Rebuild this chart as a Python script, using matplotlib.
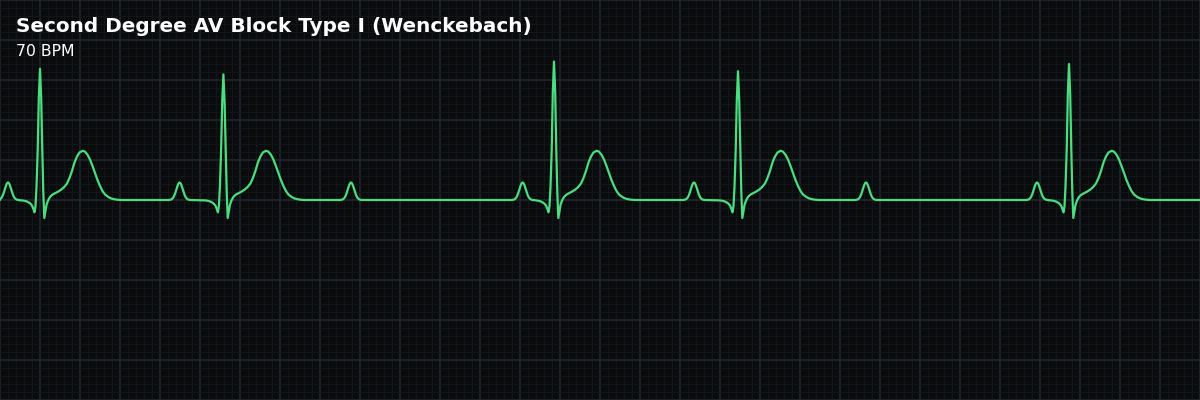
import matplotlib
matplotlib.use("Agg")
import matplotlib.pyplot as plt
import numpy as np

# ---- data ----
title = "Second Degree AV Block Type I (Wenckebach)"
subtitle = "70 BPM"

# P-wave centres (s) - every P wave, conducted or not
p_times = [0.040, 0.898, 1.755, 2.613, 3.470, 4.330, 5.185]
# R-peak times (s) - only conducted beats (PR lengthens, then a beat drops)
r_times = [0.200, 1.117, 2.770, 3.690, 5.345]
# R-peak amplitudes (mV) per conducted beat
r_amps = [1.64, 1.57, 1.73, 1.61, 1.70]

# P-wave template: offset from P centre (s), amplitude (mV)
p_dt = [-0.055, -0.045, -0.040, -0.035, -0.030, -0.025, -0.020, -0.015, -0.010, -0.005,
        0.000, 0.005, 0.010, 0.015, 0.020, 0.025, 0.030, 0.035, 0.040, 0.045, 0.055]
p_mv = [0.000, 0.004, 0.010, 0.020, 0.037, 0.064, 0.100, 0.141, 0.180, 0.209,
        0.219, 0.209, 0.180, 0.141, 0.100, 0.064, 0.037, 0.020, 0.010, 0.004, 0.000]

# QRS-T template: offset from R peak (s), amplitude (mV); R peak value set per beat
qrst_dt = [-0.105, -0.090, -0.075, -0.0625, -0.050, -0.040, -0.034, -0.0275, -0.0225,
           -0.0175, -0.0115, -0.006, 0.000, 0.006, 0.0115, 0.0165, 0.0215, 0.0265,
           0.0325, 0.040, 0.050, 0.060, 0.075, 0.090, 0.105, 0.120, 0.135, 0.1475,
           0.160, 0.1725, 0.185, 0.1975, 0.2135, 0.225, 0.2375, 0.250, 0.2625, 0.275,
           0.2875, 0.300, 0.3125, 0.325, 0.340, 0.355, 0.370, 0.385, 0.405]
qrst_mv = [-0.003, -0.005, -0.011, -0.022, -0.041, -0.069, -0.106, -0.154, -0.075,
           0.163, 0.625, 1.275, None, 1.275, 0.625, 0.100, -0.225, -0.150,
           -0.063, -0.008, 0.038, 0.063, 0.085, 0.104, 0.128, 0.160, 0.206, 0.275,
           0.363, 0.469, 0.544, 0.594, 0.616, 0.604, 0.566, 0.506, 0.425, 0.338,
           0.250, 0.175, 0.113, 0.069, 0.040, 0.020, 0.010, 0.004, 0.000]

x_range = (0.0, 6.0)
y_range = (-2.5, 2.5)

# ---- colours ----
bg = "#0a0b0d"
major_col = "#22272e"
minor_col = "#121519"
trace_col = "#4ade80"

# ---- assemble the trace from the read templates ----
pts = [(x_range[0], 0.0), (x_range[1], 0.0)]
for pt in p_times:
    for dt, v in zip(p_dt, p_mv):
        pts.append((pt + dt, v))
for rt, ra in zip(r_times, r_amps):
    for dt, v in zip(qrst_dt, qrst_mv):
        val = ra if v is None else v
        if v is not None and abs(dt) < 0.008:
            val = v * ra / 1.64
        pts.append((rt + dt, val))
pts.sort(key=lambda p: p[0])
t = [p[0] for p in pts]
y = [p[1] for p in pts]

fig = plt.figure(figsize=(12, 4), dpi=100, facecolor=bg)
ax = fig.add_axes([0, 0, 1, 1])
ax.set_facecolor(bg)
ax.set_xlim(*x_range)
ax.set_ylim(*y_range)

ax.set_xticks(np.arange(0, 6.0001, 0.2))
ax.set_xticks(np.arange(0, 6.0001, 0.04), minor=True)
ax.set_yticks(np.arange(-2.5, 2.5001, 0.5))
ax.set_yticks(np.arange(-2.5, 2.5001, 0.1), minor=True)
ax.grid(which="minor", color=minor_col, linewidth=0.8)
ax.grid(which="major", color=major_col, linewidth=1.2)
ax.set_axisbelow(True)
ax.tick_params(which="both", length=0, labelbottom=False, labelleft=False)
for s in ax.spines.values():
    s.set_visible(False)

ax.plot(t, y, color=trace_col, linewidth=1.6, solid_joinstyle="round", zorder=3)

fig.text(16 / 1200, 1 - 26 / 400, title, color="white", fontsize=14.4,
         fontweight="bold", ha="left", va="center", family="DejaVu Sans")
fig.text(16 / 1200, 1 - 51 / 400, subtitle, color="white", fontsize=11.3,
         ha="left", va="center", family="DejaVu Sans")

fig.savefig("out.png", dpi=100, facecolor=bg)
